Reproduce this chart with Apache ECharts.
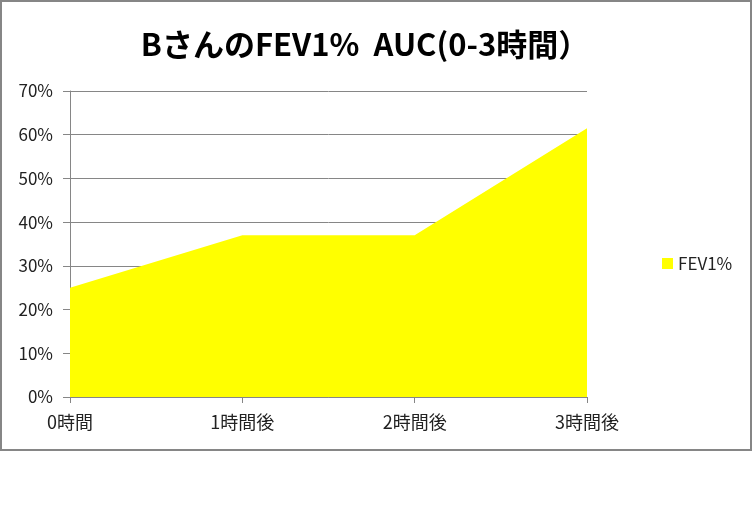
<!DOCTYPE html>
<html lang="ja">
<head>
    <meta charset="UTF-8">
    <title>BさんのFEV1% AUC</title>
    <script src="https://cdn.jsdelivr.net/npm/echarts@6/dist/echarts.min.js"></script>
    <style>
        html, body { margin: 0; padding: 0; background: #fff; }
    </style>
</head>
<body>
<div id="main" style="width: 753px;height: 514px;"></div>
<script type="text/javascript">
    // データ
    var categories = ['0時間', '1時間後', '2時間後', '3時間後'];
    var fev1 = [25, 37, 37, 61.5];
    var yTicks = [0, 10, 20, 30, 40, 50, 60, 70];

    var font = '"Noto Sans CJK JP", "Noto Sans", sans-serif';
    var gray = '#868686';

    var myChart = echarts.init(document.getElementById('main'));
    myChart.setOption({
        animation: false,
        title: {
            text: 'BさんのFEV1%  AUC(0-3時間）',
            left: 360,
            top: 24,
            textAlign: 'center',
            textStyle: {
                fontFamily: font,
                fontSize: 31,
                fontWeight: 'bold',
                color: '#000'
            }
        },
        legend: {
            data: ['FEV1%'],
            orient: 'vertical',
            left: 657,
            top: 250,
            itemWidth: 11,
            itemHeight: 11,
            itemGap: 4,
            icon: 'rect',
            textStyle: { fontFamily: font, fontSize: 17, color: '#222' }
        },
        grid: {
            left: 70,
            right: 166,
            top: 91,
            bottom: 117
        },
        graphic: [{
            type: 'rect',
            shape: { x: 1, y: 1, width: 750, height: 449 },
            style: { fill: 'none', stroke: gray, lineWidth: 2 },
            silent: true
        }],
        xAxis: {
            type: 'category',
            data: categories,
            boundaryGap: false,
            axisLine: { lineStyle: { color: gray, width: 1 } },
            axisTick: { show: true, length: 6, alignWithLabel: true, lineStyle: { color: gray } },
            axisLabel: { margin: 16, fontFamily: font, fontSize: 18, color: '#222' }
        },
        yAxis: {
            type: 'value',
            min: yTicks[0],
            max: yTicks[yTicks.length - 1],
            interval: 10,
            axisLine: { show: true, lineStyle: { color: gray, width: 1 } },
            axisTick: { show: true, length: 7, lineStyle: { color: gray } },
            splitLine: { show: true, lineStyle: { color: gray, width: 1 } },
            axisLabel: {
                margin: 17,
                fontFamily: font,
                fontSize: 17,
                color: '#222',
                formatter: '{value}%'
            }
        },
        series: [{
            name: 'FEV1%',
            type: 'line',
            data: fev1,
            symbol: 'none',
            lineStyle: { width: 0, color: '#ffff00' },
            itemStyle: { color: '#ffff00' },
            areaStyle: { color: '#ffff00', opacity: 1 }
        }]
    });
</script>
</body>
</html>
